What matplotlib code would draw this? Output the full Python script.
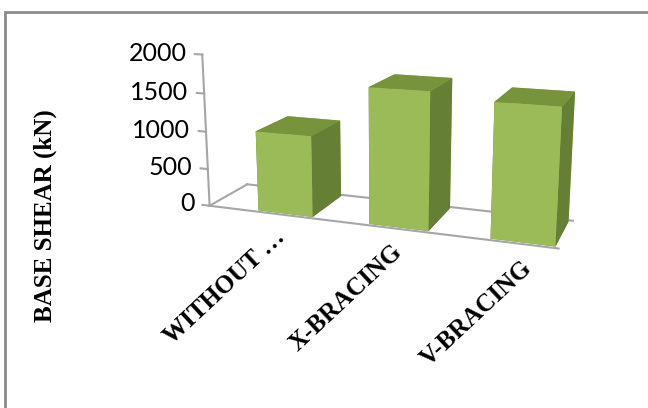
import matplotlib.pyplot as plt
import numpy as np
from matplotlib.patches import Rectangle
from mpl_toolkits.mplot3d import proj3d

categories = ["WITHOUT …", "X-BRACING", "V-BRACING"]
base_shear = [1050, 1720, 1650]
y_ticks = [0, 500, 1000, 1500, 2000]
y_label = "BASE SHEAR (kN)"

front_col = "#9BBB59"
top_col = "#77933C"
side_col = "#657F35"
grey = "#A6A6A6"

fig = plt.figure(figsize=(6.48, 4.08), dpi=100)

# chart area border (only top and left show in the crop)
fig.patches.append(Rectangle((5 / 648, -0.2), 1.2, 1.2 - 12 / 408,
                             transform=fig.transFigure, fill=False,
                             edgecolor="#8C8C8C", lw=2))

ax = fig.add_axes([0.211, 0.304, 0.76, 0.7], projection="3d", computed_zorder=False)
ax.set_proj_type("persp", focal_length=0.6)
ax.view_init(elev=14, azim=-70)

n = len(base_shear)
xpos = np.arange(n)
bw, bd = 0.5, 0.9
x0, x1 = -0.7, n - 0.72
depth = 1.0
zmax = y_ticks[-1]

ax.set_xlim(x0, x1)
ax.set_ylim(0, depth)
ax.set_zlim(0, zmax)
ax.set_box_aspect((3.11, 0.7, 1.36), zoom=1.381)
ax.set_axis_off()

line_kw = dict(color=grey, lw=1.5, zorder=1, clip_on=False)
# floor outline
ax.plot([x0, x1], [0, 0], [0, 0], **line_kw)
ax.plot([x0, x1], [depth, depth], [0, 0], **line_kw)
ax.plot([x0, x0], [0, depth], [0, 0], **line_kw)

# value axis
ax.plot([x0, x0], [0, 0], [0, zmax], **line_kw)
for t in y_ticks:
    ax.plot([x0 - 0.07, x0], [0, 0], [t, t], **line_kw)

colors = []
for _ in range(n):
    # bottom, top, front, back, left, right
    colors += [side_col, top_col, front_col, front_col, side_col, side_col]
bars = ax.bar3d(xpos - bw / 2, np.full(n, 0.05), np.zeros(n), bw, bd, base_shear,
                color=colors, shade=False, lw=0, zorder=2)
bars.set_clip_on(False)

# texts: project the 3D anchor points, then write plain 2D text
fig.canvas.draw()
M = ax.get_proj()
for t in y_ticks:
    xs, ys, _ = proj3d.proj_transform(x0 - 0.15, 0, t, M)
    ax.text2D(xs, ys, str(t), transform=ax.transData, ha="right", va="center",
              fontsize=18, family="Lato", zorder=3)

for i, c in enumerate(categories):
    xs, ys, _ = proj3d.proj_transform(xpos[i] + 0.16, -0.34, 0, M)
    ax.text2D(xs, ys, c, transform=ax.transData, rotation=43, ha="right", va="top",
              fontsize=18, family="Liberation Serif", fontweight="bold", zorder=3)

fig.text(45 / 648, 1 - 216 / 408, y_label, rotation=90, ha="center", va="center",
         fontsize=18, family="Liberation Serif", fontweight="bold")

fig.savefig("out.png", dpi=100)
